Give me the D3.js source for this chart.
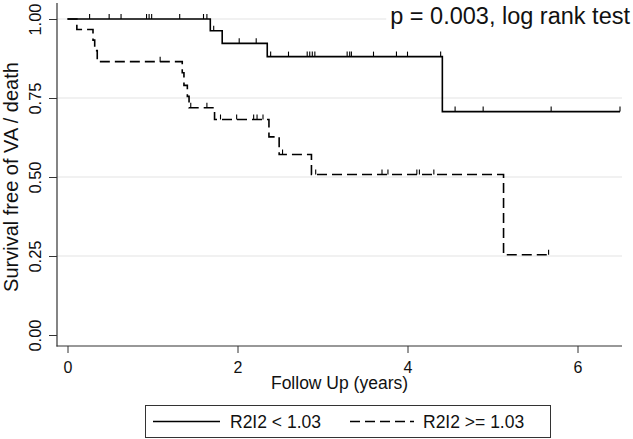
<!DOCTYPE html>
<html>
<head>
<meta charset="utf-8">
<script src="https://cdn.jsdelivr.net/npm/d3@7"></script>
<style>
  html, body { margin: 0; padding: 0; background: #fff; }
  svg { display: block; font-family: "Liberation Sans", Arial, sans-serif; }
</style>
</head>
<body>
<svg id="chart" width="633" height="439"></svg>
<script>
// ---- data ----
const xTicks = [0, 2, 4, 6];
const yTicks = [0, 0.25, 0.5, 0.75, 1.0];
const yTickLabels = ["0.00", "0.25", "0.50", "0.75", "1.00"];
const seriesNames = ["R2I2 < 1.03", "R2I2 >= 1.03"];

// group 1 (solid): step times and survival
const solidTimes = [0, 1.68, 1.82, 2.35, 4.41, 6.50];
const solidSurv  = [1.0, 0.963, 0.923, 0.881, 0.707, 0.707];
const solidCensor = [0.26, 0.49, 0.63, 0.93, 0.96, 0.99, 1.32, 1.60, 1.64, 1.72,
  2.02, 2.22, 2.39, 2.60, 2.82, 2.85, 2.88, 2.91, 3.29, 3.32, 3.34, 3.60, 3.87,
  4.00, 4.39, 4.56, 4.89, 5.69, 6.50];

// group 2 (dashed)
const dashTimes = [0, 0.11, 0.30, 0.32, 0.35, 1.35, 1.37, 1.41, 1.43, 1.73, 2.37, 2.49, 2.87, 5.13, 5.66];
const dashSurv  = [1.0, 0.967, 0.933, 0.900, 0.865, 0.830, 0.790, 0.755, 0.719, 0.682, 0.627, 0.571, 0.508, 0.254, 0.254];
const dashCensor = [1.09, 1.45, 1.64, 1.80, 1.99, 2.19, 2.23, 2.30, 2.53, 2.92,
  3.70, 3.77, 4.11, 4.14, 4.31, 5.66];

const titleText = "p = 0.003, log rank test";
const xTitle = "Follow Up (years)";
const yTitle = "Survival free of VA / death";

// ---- layout ----
const svg = d3.select("#chart");
const axisLeftX = 57, axisBottomY = 346, axisTopY = 3, plotRightX = 622;
const x = d3.scaleLinear().domain([0, 6]).range([67.5, 577.5]);
const y = d3.scaleLinear().domain([0, 1]).range([335, 19]);
const font = '"Liberation Sans", Arial, sans-serif';

// gridlines
svg.append("g").selectAll("line").data(yTicks.filter(d => d > 0)).join("line")
  .attr("x1", axisLeftX).attr("x2", plotRightX)
  .attr("y1", d => y(d)).attr("y2", d => y(d))
  .attr("stroke", "#e3e3e3").attr("stroke-width", 1);

// y axis
const yAxis = d3.axisLeft(y).tickValues(yTicks).tickSize(8).tickPadding(0)
  .tickFormat((d, i) => yTickLabels[i]);
const gy = svg.append("g").attr("transform", `translate(${axisLeftX},0)`).call(yAxis);
gy.select(".domain").remove();
gy.selectAll(".tick line").attr("stroke", "#333").attr("stroke-width", 1);
gy.selectAll(".tick text")
  .attr("x", null).attr("dy", null)
  .attr("text-anchor", "middle")
  .attr("transform", "translate(-16,0) rotate(-90)")
  .attr("font-size", 16.5).attr("font-family", font).attr("fill", "#111");
svg.append("line").attr("x1", axisLeftX).attr("x2", axisLeftX)
  .attr("y1", axisTopY).attr("y2", axisBottomY + 0.5)
  .attr("stroke", "#333").attr("stroke-width", 1.2);

// x axis
const xAxis = d3.axisBottom(x).tickValues(xTicks).tickSize(7).tickPadding(0).tickFormat(d3.format("d"));
const gx = svg.append("g").attr("transform", `translate(0,${axisBottomY})`).call(xAxis);
gx.select(".domain").remove();
gx.selectAll(".tick line").attr("stroke", "#333").attr("stroke-width", 1);
gx.selectAll(".tick text").attr("y", 26.5).attr("dy", null)
  .attr("font-size", 16).attr("font-family", font).attr("fill", "#111");
svg.append("line").attr("x1", axisLeftX - 0.5).attr("x2", plotRightX)
  .attr("y1", axisBottomY).attr("y2", axisBottomY)
  .attr("stroke", "#333").attr("stroke-width", 1.2);

// axis titles
svg.append("text").attr("x", (axisLeftX + plotRightX) / 2).attr("y", 389)
  .attr("text-anchor", "middle").attr("font-size", 17.5).attr("font-family", font)
  .attr("fill", "#111").text(xTitle);
svg.append("text").attr("transform", `translate(17.5,${(y(0) + y(1)) / 2}) rotate(-90)`)
  .attr("text-anchor", "middle").attr("font-size", 20).attr("font-family", font)
  .attr("fill", "#111").text(yTitle);

// step curves
const line = d3.line().x(d => x(d[0])).y(d => y(d[1])).curve(d3.curveStepAfter);
const solidData = d3.zip(solidTimes, solidSurv);
const dashData = d3.zip(dashTimes, dashSurv);

function survAt(times, surv, t) {
  const i = d3.bisectRight(times, t) - 1;
  return surv[Math.max(0, i)];
}

svg.append("path").datum(dashData).attr("d", line)
  .attr("fill", "none").attr("stroke", "#000").attr("stroke-width", 1.6)
  .attr("stroke-dasharray", "10,5");
svg.append("path").datum(solidData).attr("d", line)
  .attr("fill", "none").attr("stroke", "#000").attr("stroke-width", 1.6);

// censor ticks
const tickH = 5;
svg.append("g").selectAll("line").data(solidCensor).join("line")
  .attr("x1", d => x(d)).attr("x2", d => x(d))
  .attr("y1", d => y(survAt(solidTimes, solidSurv, d)))
  .attr("y2", d => y(survAt(solidTimes, solidSurv, d)) - tickH)
  .attr("stroke", "#000").attr("stroke-width", 1.1);
svg.append("g").selectAll("line").data(dashCensor).join("line")
  .attr("x1", d => x(d)).attr("x2", d => x(d))
  .attr("y1", d => y(survAt(dashTimes, dashSurv, d)))
  .attr("y2", d => y(survAt(dashTimes, dashSurv, d)) - tickH)
  .attr("stroke", "#000").attr("stroke-width", 1.1);

// p-value text with white background
const tg = svg.append("g");
const bgRect = tg.append("rect").attr("fill", "#fff");
const tt = tg.append("text").attr("x", 630).attr("y", 23.5)
  .attr("text-anchor", "end").attr("font-size", 23.5).attr("font-family", font)
  .attr("fill", "#111").text(titleText);
const bb = tt.node().getBBox();
bgRect.attr("x", bb.x - 4).attr("y", bb.y).attr("width", bb.width + 6).attr("height", bb.height);

// legend
const lg = svg.append("g");
lg.append("rect").attr("x", 145.5).attr("y", 405.5).attr("width", 405).attr("height", 32)
  .attr("fill", "#fff").attr("stroke", "#333").attr("stroke-width", 1);
const legendItems = [
  { name: seriesNames[0], x1: 153, x2: 220, tx: 230, dash: null },
  { name: seriesNames[1], x1: 350, x2: 414, tx: 423, dash: "10,5" }
];
legendItems.forEach(it => {
  lg.append("line").attr("x1", it.x1).attr("x2", it.x2).attr("y1", 421.5).attr("y2", 421.5)
    .attr("stroke", "#000").attr("stroke-width", 1.6)
    .attr("stroke-dasharray", it.dash);
  lg.append("text").attr("x", it.tx).attr("y", 428).attr("font-size", 17.5)
    .attr("font-family", font).attr("fill", "#111").text(it.name);
});
</script>
</body>
</html>
